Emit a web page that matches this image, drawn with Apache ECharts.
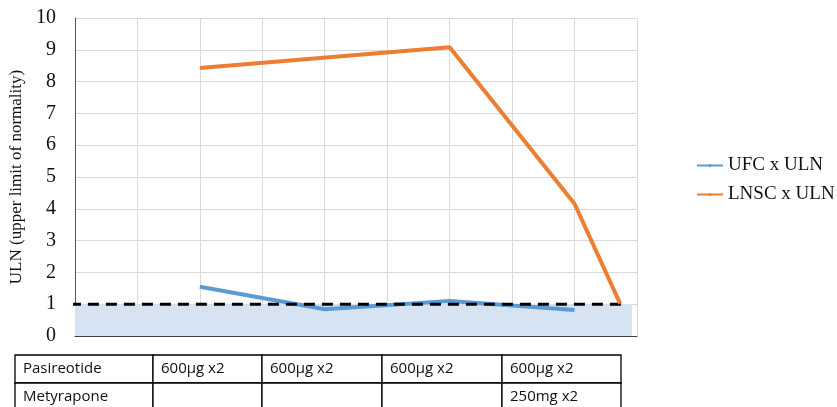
<!DOCTYPE html>
<html><head><meta charset="utf-8">
<script src="https://cdn.jsdelivr.net/npm/echarts@6/dist/echarts.min.js"></script>
<style>html,body{margin:0;padding:0;background:#fff}#c{width:837px;height:407px}</style>
</head><body><div id="c"></div>
<script>
const ufcX = [2, 4, 6, 8];
const ufcY = [1.55, 0.84, 1.10, 0.82];
const lnscX = [2, 6, 8, 8.73];
const lnscY = [8.43, 9.08, 4.16, 1.02];
const ulnLevel = 1;
const shadeRange = [0, 8.92];
const dashRange = [-0.08, 8.84];
const seriesNames = ['UFC x ULN', 'LNSC x ULN'];
const tableRows = [
  ['Pasireotide', '600µg x2', '600µg x2', '600µg x2', '600µg x2'],
  ['Metyrapone', '', '', '', '250mg x2']
];
const colEdges = [15, 153, 262, 382, 502, 621];
const rowEdges = [355, 383, 411];

const chart = echarts.init(document.getElementById('c'));
const serif = 'Liberation Serif';
const graphics = [];
for (let r = 0; r < tableRows.length; r++) {
  for (let c = 0; c < tableRows[r].length; c++) {
    graphics.push({type:'rect', shape:{x:colEdges[c], y:rowEdges[r], width:colEdges[c+1]-colEdges[c], height:rowEdges[r+1]-rowEdges[r]},
      style:{fill:'#fff', stroke:'#000', lineWidth:1.3}});
    graphics.push({type:'text', x:colEdges[c]+8, y:(rowEdges[r]+rowEdges[r+1])/2,
      style:{text:tableRows[r][c], font:'15px "Open Sans"', fill:'#111', textVerticalAlign:'middle'}});
  }
}
chart.setOption({
  animation:false,
  grid:{left:72, top:18, width:565, height:318},
  legend:{data:seriesNames, orient:'vertical', left:691, top:151, itemGap:10, itemWidth:26, itemHeight:4,
    textStyle:{fontFamily:serif, fontSize:19, color:'#111'}},
  xAxis:{type:'value', min:0, max:9, interval:1, axisLabel:{show:false}, axisTick:{show:false},
    axisLine:{show:true, lineStyle:{color:'#404040', width:1}}, splitLine:{show:true, lineStyle:{color:'#D9D9D9', width:1}}},
  yAxis:{type:'value', min:0, max:10, interval:1, name:'ULN (upper limit of normality)', nameLocation:'middle', nameGap:48,
    nameTextStyle:{fontFamily:serif, fontSize:17, color:'#111'},
    axisLabel:{fontFamily:serif, fontSize:20, color:'#111', margin:19}, axisTick:{show:false},
    axisLine:{show:true, lineStyle:{color:'#555', width:1}}, splitLine:{show:true, lineStyle:{color:'#D9D9D9', width:1}}},
  graphic: graphics,
  series:[
    {type:'line', name:'shade', data:[[shadeRange[0], ulnLevel],[shadeRange[1], ulnLevel]], symbol:'none',
      lineStyle:{width:0}, areaStyle:{color:'#D5E3F3', opacity:1}, z:1, silent:true},
    {type:'line', name:seriesNames[0], data:ufcX.map((x,i)=>[x, ufcY[i]]), symbol:'circle', symbolSize:4, showSymbol:false,
      lineStyle:{width:4, color:'#5B9BD5'}, itemStyle:{color:'#5B9BD5'}, z:3},
    {type:'line', name:'uln', data:[[dashRange[0], ulnLevel],[dashRange[1], ulnLevel]], symbol:'none', clip:false,
      lineStyle:{width:3, color:'#000', type:[11,7]}, z:4, silent:true},
    {type:'line', name:seriesNames[1], data:lnscX.map((x,i)=>[x, lnscY[i]]), symbol:'circle', symbolSize:4, showSymbol:false,
      lineStyle:{width:4, color:'#ED7D31'}, itemStyle:{color:'#ED7D31'}, z:5}
  ]
});
</script></body></html>
